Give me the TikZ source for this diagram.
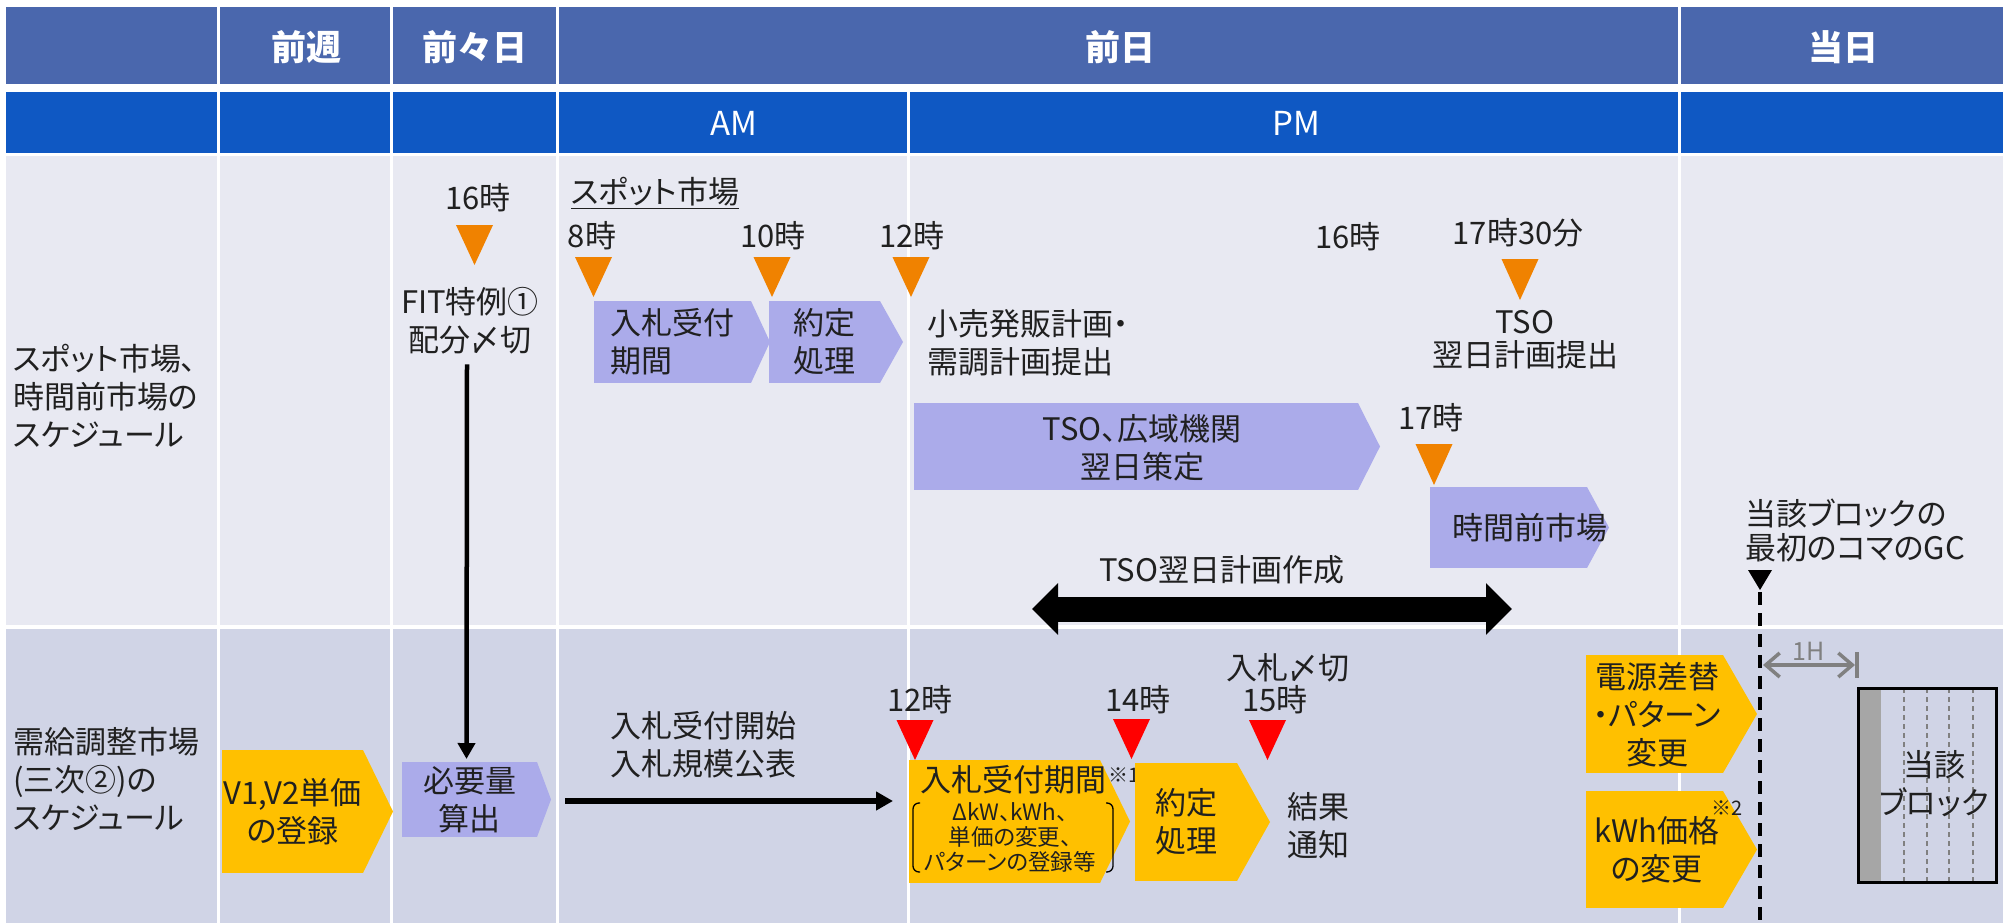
\documentclass[tikz,border=0pt]{standalone}
\usepackage{fontspec}
\setmainfont{Noto Sans CJK JP}[RawFeature=+palt]
\usetikzlibrary{arrows.meta,calc}
\definecolor{hdrA}{HTML}{4A67AD}
\definecolor{hdrB}{HTML}{0F58C3}
\definecolor{rowA}{HTML}{E8E9F2}
\definecolor{rowB}{HTML}{D0D4E6}
\definecolor{purp}{HTML}{ABABEA}
\definecolor{yel}{HTML}{FFC000}
\definecolor{org}{HTML}{F08200}
\definecolor{txt}{HTML}{202020}
\definecolor{gry}{HTML}{808080}
\definecolor{stripc}{HTML}{A6A6A6}
\newcommand\fmain{\fontsize{31}{38}\selectfont}
\newcommand\tipR[3]{\fill[#3] (#1.north east) -- ($(#1.east)+(#2,0)$) -- (#1.south east) -- cycle;}
\newcommand\dtri[5]{\fill[#1] ({#2-#4/2},#3) -- ({#2+#4/2},#3) -- (#2,{#3+#5}) -- cycle;}
\tikzset{
 base/.style={inner sep=0pt, outer sep=0pt, text=txt, font=\fmain},
 hdr/.style={base, text=white, font=\fontsize{35}{40}\selectfont\bfseries},
 subhdr/.style={base, text=white, font=\fontsize{33}{40}\selectfont},
 ml/.style={base, align=center},
 mll/.style={base, align=left},
 pbox/.style={base, fill=purp},
 ybox/.style={base, fill=yel},
 smalltxt/.style={base, font=\fontsize{22.5}{25}\selectfont},
 supx/.style={base, font=\fontsize{20}{24}\selectfont},
}
\begin{document}
\begin{tikzpicture}[x=1pt,y=-1pt]
\useasboundingbox (0,0) rectangle (2007,923);
\fill[white] (0,0) rectangle (2007,923);
% grid
\foreach \a/\b in {6/217,220/390,393/556,559/1678,1681/2003}{\fill[hdrA] (\a,7) rectangle (\b,84);}
\foreach \a/\b in {6/217,220/390,393/556,559/907,910/1678,1681/2003}{
  \fill[hdrB] (\a,92) rectangle (\b,153);
  \fill[rowA] (\a,156) rectangle (\b,625);
  \fill[rowB] (\a,629) rectangle (\b,923);}
% headers
\node[hdr] (wk) at (306,47) {前週};
\node[hdr] (dd) at (475,47) {前々日};
\node[hdr] (dy) at (1120,47) {前日};
\node[hdr] (td) at (1843,47) {当日};
\node[subhdr] (am) at (734,123) {AM};
\node[subhdr] (pm) at (1296,123) {PM};
% row labels
\node[mll, anchor=west] (spotlbl) at (13,396) {スポット市場、\\時間前市場の\\スケジュール};
\node[mll, anchor=west] (bglbl) at (13,779) {需給調整市場\\(三次②)の\\スケジュール};
% ---------- spot / intraday row ----------
\node[base] (t16a) at (478,198) {16時};
\dtri{org}{474.5}{225}{37}{40}
\node[ml] (fit) at (470,321) {FIT特例①\\配分〆切};
\node[base, anchor=west] (spot) at (571,193) {\underline{スポット市場}};
\node[base] (t8) at (592,236) {8時};
\node[base] (t10) at (773,236) {10時};
\node[base] (t12a) at (912,236) {12時};
\dtri{org}{593.5}{257}{37}{40}
\dtri{org}{772}{257}{37}{40}
\dtri{org}{911}{257}{37}{40}
\node[pbox, minimum width=157, minimum height=82, align=left] (sbid) at (672.5,342) {入札受付\\期間};
\tipR{sbid}{19}{purp}
\node[pbox, minimum width=111, minimum height=82, align=left] (sdeal) at (824.5,342) {約定\\処理};
\tipR{sdeal}{23}{purp}
\node[mll, anchor=west] (retail) at (927,343) {小売発販計画・\\需調計画提出};
\node[base] (t16b) at (1348,237) {16時};
\node[base] (t1730) at (1518,233) {17時30分};
\dtri{org}{1520}{259}{37}{41}
\node[ml] (tsoplan) at (1525,340) {TSO\\[-5pt]翌日計画提出};
\node[pbox, minimum width=444, minimum height=87, align=center] (tsobox) at (1136,446.5) {};
\tipR{tsobox}{22}{purp}
\node[ml] (tsotxt) at (1142,448) {TSO、広域機関\\翌日策定};
\node[base] (t17) at (1431,418) {17時};
\dtri{org}{1434}{444}{37}{41}
\node[pbox, minimum width=157, minimum height=81] (intra) at (1508.5,527.5) {};
\tipR{intra}{22}{purp}
\node[base] (intratxt) at (1530,528) {時間前市場};
\node[base] (tsomake) at (1222,570) {TSO翌日計画作成};
\coordinate (dal) at (1032,609);
\coordinate (dar) at (1512,609);
\draw[line width=25, {Triangle[length=26pt,width=50pt]}-{Triangle[length=26pt,width=50pt]}] (dal) -- (dar);
\node[mll, anchor=west] (gctxt) at (1745,530) {当該ブロックの\\[-4pt]最初のコマのGC};
\dtri{black}{1760}{570}{24}{20}
\coordinate (gct) at (1760,592);
\coordinate (gcb) at (1760,923);
\draw[line width=4.5, dash pattern=on 13pt off 8pt] (gct) -- (gcb);
% ---------- balancing market row ----------
\node[ybox, minimum width=141, minimum height=123, align=center] (v12) at (292.5,811.5) {V1,V2単価\\の登録};
\tipR{v12}{30}{yel}
\node[pbox, minimum width=135, minimum height=75, align=center] (need) at (469.5,799.5) {必要量\\算出};
\tipR{need}{14}{purp}
\draw[line width=4.5, -{Triangle[length=16pt,width=17pt]}] ($(fit.south)+(-3,10)$) -- ($(need.north)+(-3,-3)$);
\node[ml] (bidopen) at (703,745) {入札受付開始\\入札規模公表};
\node[ybox, minimum width=191, minimum height=123] (bid) at (1004.5,821.5) {};
\tipR{bid}{30}{yel}
\draw[line width=6, -{Triangle[length=17pt,width=18pt]}] ($(need.east)+(28,1.5)$) -- ($(need.east -| bid.west)+(-16,1.5)$);
\node[base] (t12b) at (920,700) {12時};
\dtri{red}{915}{720}{37}{40}
\node[base] (t14) at (1138,700) {14時};
\dtri{red}{1131.5}{719}{37}{40}
\node[base] (bidend) at (1288,668) {入札〆切};
\node[base] (t15) at (1275,700) {15時};
\dtri{red}{1267.5}{720}{37}{40}
\node[base] (bidtitle) at (1013,780) {入札受付期間};
\node[supx] (n1) at (1124,775) {※1};
\node[smalltxt, align=center] (bidsub) at (1010,837) {ΔkW、kWh、\\単価の変更、\\パターンの登録等};
\draw[line width=1.3, rounded corners=6pt] (920,803) -- (913,803) -- (913,872) -- (920,872);
\draw[line width=1.3, rounded corners=6pt] (1106,803) -- (1113,803) -- (1113,872) -- (1106,872);
\node[ybox, minimum width=102, minimum height=118, align=center] (deal) at (1186,822) {約定\\処理};
\tipR{deal}{33}{yel}
\node[ml] (result) at (1318,826) {結果\\通知};
\node[ybox, minimum width=137, minimum height=118] (swap) at (1654.5,714) {};
\tipR{swap}{34}{yel}
\node[ml] (swaptxt) at (1657,715) {電源差替\\・パターン\\変更};
\node[ybox, minimum width=137, minimum height=117] (kwh) at (1654.5,849.5) {};
\tipR{kwh}{34}{yel}
\node[ml] (kwhtxt) at (1657,850) {kWh価格\\の変更};
\node[supx] (n2) at (1727,808) {※2};
% 1H
\coordinate (h1) at (1763,665);
\coordinate (h2) at (1855,665);
\draw[gry, line width=3.5, {Straight Barb[length=14pt,width=24pt]}-{Straight Barb[length=14pt,width=24pt]}] (h1) -- (h2);
\draw[gry, line width=3.5] ($(h2)+(2,-13)$) -- ($(h2)+(2,13)$);
\node[base, text=gry, font=\fontsize{25}{28}\selectfont] (oneh) at (1809,651) {1H};
% block
\node[inner sep=0pt, outer sep=0pt, minimum width=138, minimum height=194] (blk) at (1927,785) {};
\fill[stripc] (blk.north west) rectangle ($(blk.south west)+(23,0)$);
\foreach \x in {46,69,91,115}{\draw[gry, line width=1.3, dash pattern=on 5pt off 4pt] ($(blk.north west)+(\x,0)$) -- ($(blk.south west)+(\x,0)$);}
\draw[line width=3] (blk.north west) rectangle (blk.south east);
\node[ml] (blktxt) at (1934,784) {当該\\ブロック};
\end{tikzpicture}
\end{document}
